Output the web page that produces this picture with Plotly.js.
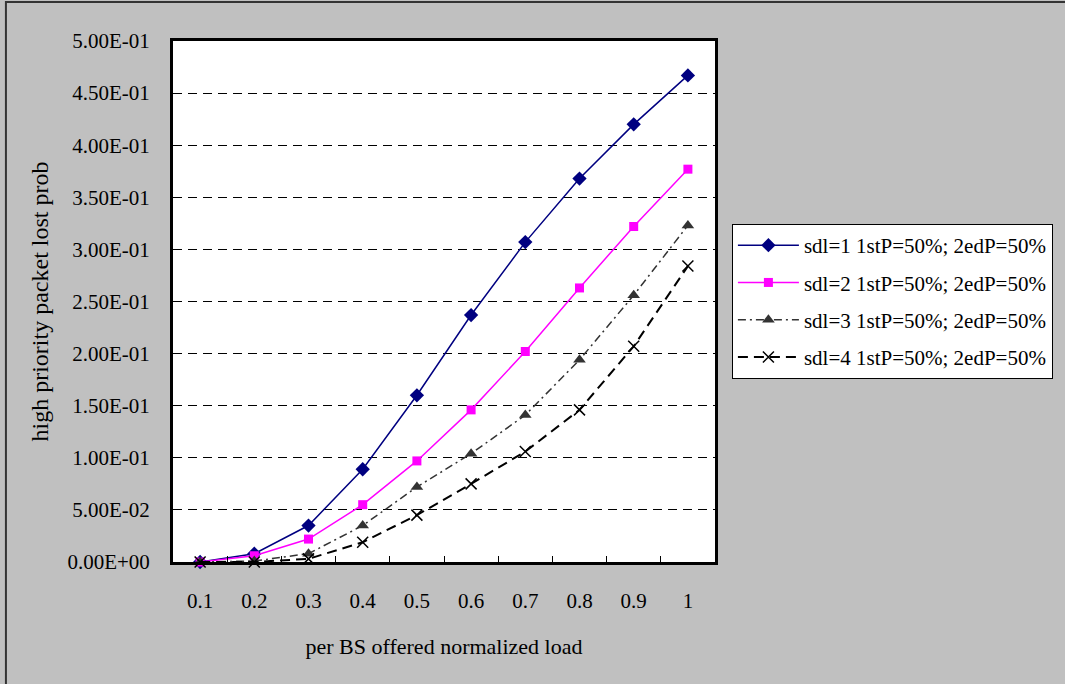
<!DOCTYPE html>
<html>
<head>
<meta charset="utf-8">
<script src="https://cdn.plot.ly/plotly-3.0.1.min.js"></script>
<style>
  html, body { margin: 0; padding: 0; background: #c0c0c0; }
  #chart { width: 1065px; height: 684px; }
</style>
</head>
<body>
<div id="chart"></div>
<script>
// Offered load per base station (category axis)
const loads = ['0.1', '0.2', '0.3', '0.4', '0.5', '0.6', '0.7', '0.8', '0.9', '1'];

// High priority packet loss probability for each sdl setting
const sdl1 = [0.0, 0.008, 0.035, 0.089, 0.160, 0.237, 0.307, 0.368, 0.420, 0.467];
const sdl2 = [0.0, 0.006, 0.022, 0.055, 0.097, 0.146, 0.202, 0.263, 0.322, 0.377];
const sdl3 = [0.0, 0.001, 0.008, 0.035, 0.072, 0.104, 0.141, 0.194, 0.256, 0.323];
const sdl4 = [0.0, 0.0, 0.003, 0.019, 0.045, 0.075, 0.106, 0.146, 0.207, 0.284];

const seriesNames = [
  'sdl=1 1stP=50%; 2edP=50%',
  'sdl=2 1stP=50%; 2edP=50%',
  'sdl=3 1stP=50%; 2edP=50%',
  'sdl=4 1stP=50%; 2edP=50%'
];

// Y axis ticks in Excel-style scientific notation
const yTickVals = [0, 0.05, 0.10, 0.15, 0.20, 0.25, 0.30, 0.35, 0.40, 0.45, 0.50];
const yTickText = ['0.00E+00', '5.00E-02', '1.00E-01', '1.50E-01', '2.00E-01', '2.50E-01',
                   '3.00E-01', '3.50E-01', '4.00E-01', '4.50E-01', '5.00E-01'];

const FONT = 'Liberation Serif, Times New Roman, serif';

function series(name, y, group, line, marker) {
  return {
    type: 'scatter', mode: 'lines+markers', name: name,
    x: loads, y: y, legendgroup: group,
    line: line, marker: marker, cliponaxis: false
  };
}

const data = [
  series(seriesNames[0], sdl1, 'g1',
    { color: '#000080', width: 1.5 },
    { symbol: 'diamond', size: 11, color: '#000080' }),
  series(seriesNames[1], sdl2, 'g2',
    { color: '#ff00ff', width: 1.5 },
    { symbol: 'square', size: 9, color: '#ff00ff' }),
  series(seriesNames[2], sdl3, 'g3',
    { color: '#333333', width: 1.5, dash: '8px,4px,2px,4px' },
    { symbol: 'triangle-up', size: 11, color: '#333333' }),
  series(seriesNames[3], sdl4, 'g4',
    { color: '#000000', width: 2, dash: '10px,6px' },
    { symbol: 'x-thin', size: 11, line: { color: '#000000', width: 1.5 } })
];

// Plot area: x 173..718 px, y 41..562 px
const L = 173, R = 718, T = 41, B = 562, W = 1065, H = 684;
const pw = R - L, ph = B - T;
const px = v => (v - L) / pw;
const py = v => (B - v) / ph;

const layout = {
  width: W, height: H,
  margin: { l: L, r: W - R, t: T, b: H - B, pad: 0 },
  paper_bgcolor: '#c0c0c0',
  plot_bgcolor: '#ffffff',
  font: { family: FONT, size: 21, color: '#000000' },
  showlegend: true,
  xaxis: {
    type: 'category',
    range: [-0.5, 9.5],
    showgrid: false, zeroline: false,
    showline: true, linecolor: '#000000', linewidth: 3, mirror: true,
    ticks: 'inside', ticklen: 6, tickwidth: 1, tickcolor: '#000000',
    tickson: 'boundaries',
    ticklabelstandoff: 18,
    tickfont: { family: FONT, size: 21, color: '#000000' },
    title: { text: 'per BS offered normalized load', font: { family: FONT, size: 22, color: '#000000' }, standoff: 27 }
  },
  yaxis: {
    range: [0, 0.5],
    tickvals: yTickVals, ticktext: yTickText,
    showgrid: true, gridcolor: '#000000', gridwidth: 1, griddash: '9px,6px',
    zeroline: false,
    showline: true, linecolor: '#000000', linewidth: 3, mirror: true,
    ticks: '',
    ticklabelstandoff: 16,
    tickfont: { family: FONT, size: 21, color: '#000000' },
    title: { text: 'high priority packet lost prob', font: { family: FONT, size: 24, color: '#000000' }, standoff: 12 }
  },
  legend: {
    x: px(735), y: py(224), xanchor: 'left', yanchor: 'top',
    bgcolor: '#ffffff', bordercolor: '#000000', borderwidth: 1,
    font: { family: FONT, size: 21, color: '#000000' },
    itemwidth: 61, tracegroupgap: 7, traceorder: 'grouped'
  },
  shapes: [
    // outer chart frame
    { type: 'rect', xref: 'paper', yref: 'paper', layer: 'below',
      x0: px(5), x1: px(1075), y0: py(700), y1: py(2),
      line: { color: '#333333', width: 2 }, fillcolor: 'rgba(0,0,0,0)' }
  ]
};

Plotly.newPlot('chart', data, layout, { displayModeBar: false, staticPlot: true });
</script>
</body>
</html>
